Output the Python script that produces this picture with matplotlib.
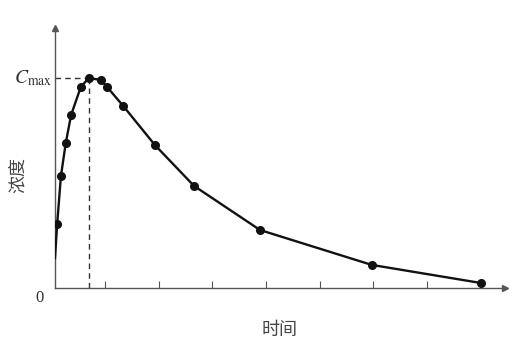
import matplotlib
matplotlib.use("Agg")
import matplotlib.pyplot as plt

plt.rcParams['font.family'] = ['Noto Sans CJK SC', 'DejaVu Sans']
plt.rcParams['mathtext.fontset'] = 'stix'

# time (h) and concentration
start_time = [0.07]
start_conc = [1.43]
times = [0.11, 0.18, 0.27, 0.37, 0.55, 0.70, 0.93, 1.04, 1.34,
         1.93, 2.66, 3.89, 5.97, 8.00]
conc = [3.05, 5.33, 6.90, 8.24, 9.57, 10.0, 9.90, 9.57, 8.67,
        6.81, 4.86, 2.76, 1.10, 0.24]
x_ticks = [1, 2, 3, 4, 5, 6, 7]

t_max = times[conc.index(max(conc))]
c_max = max(conc)

fig = plt.figure(figsize=(5.2, 3.49), dpi=100)
ax = fig.add_axes([0.1058, 0.1748, 0.865, 0.745])
ax.set_xlim(0.07, 8.45)
ax.set_ylim(0, 12.38)

axis_col = '#555555'
for s in ['top', 'right']:
    ax.spines[s].set_visible(False)
for s in ['left', 'bottom']:
    ax.spines[s].set_color(axis_col)
    ax.spines[s].set_linewidth(1.0)

# arrow heads
ax.plot(1, 0, '>', color=axis_col, markersize=5, transform=ax.transAxes, clip_on=False)
ax.plot(0, 1, '^', color=axis_col, markersize=5, transform=ax.transAxes, clip_on=False)

ax.set_xticks(x_ticks)
ax.set_xticklabels([])
ax.set_yticks([])
ax.tick_params(axis='x', direction='in', length=5, color=axis_col)

# curve
ax.plot(start_time + times, start_conc + conc, color='#111111', lw=1.7, zorder=3)
ax.plot(times, conc, 'o', color='#111111', markersize=5.5, zorder=4)

# Cmax guides
ax.plot([0.07, t_max], [c_max, c_max], ls='--', color='#333333', lw=1.0, dashes=(4, 3))
ax.plot([t_max, t_max], [0, c_max], ls='--', color='#333333', lw=1.0, dashes=(4, 3))

fig.text(52 / 520, 1 - 78 / 349, r'$C_{\mathrm{max}}$', ha='right', va='center',
         fontsize=14, color='#333333')
fig.text(40 / 520, 1 - 298 / 349, '0', ha='center', va='center', fontsize=12,
         color='#333333', family='Liberation Serif')
fig.text(18 / 520, 1 - 175 / 349, '浓度', ha='center', va='center', fontsize=13,
         rotation=90, color='#444444')
fig.text(280 / 520, 1 - 330 / 349, '时间', ha='center', va='center', fontsize=13,
         color='#444444')

fig.savefig('out.png', dpi=100)
